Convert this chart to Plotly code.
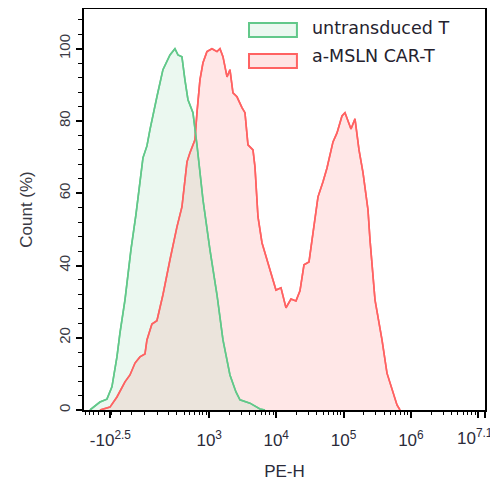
import numpy as np
import plotly.graph_objects as go

# ---- data (PE-H values, Count %) ----
untrans_x = [-688, -617, -477, -364, -296, -237, -205, -156, -104, -64, -33, -10, 20, 43,
             98, 150, 219, 275, 313, 368, 414, 465, 560, 648, 803, 1027, 1311, 1613,
             2052, 2522, 2893, 4075, 5740, 6809]
untrans_y = [0, 0.6, 2.2, 3.0, 6.4, 14.7, 21.3, 30.5, 44.3, 54.0, 62.9, 69.8, 73.1, 77.6,
             86.7, 94.2, 98.3, 100, 98.3, 97.8, 91.4, 85.9, 82.3, 73.4, 58.2, 44.3, 31.9, 19.4,
             9.7, 5.0, 2.8, 1.9, 0.3, 0]

car_x = [-477, -322, -237, -156, -112, -71, -33, 5, 20, 58, 98, 150, 219, 300, 368, 448,
         501, 602, 648, 721, 803, 924, 1101, 1311, 1454, 1613, 1854, 2052, 2275, 2610,
         3098, 3434, 3806, 4517, 4836, 5359, 6145, 7291, 8653, 9920, 11770, 13966, 16573,
         19657, 22539, 25850, 30668, 35167, 41723, 49511, 56760, 69674, 79893, 94776,
         105017, 128920, 147840, 169510, 194370, 230560, 246950, 292930, 372130, 441320,
         523710, 621500, 688710]
car_y = [0, 0.8, 3.6, 7.8, 9.7, 13.0, 14.7, 15.5, 19.4, 23.8, 24.7, 31.9, 41.6, 50.7, 56.2, 68.7,
         71.2, 74.8, 82.3, 91.4, 96.1, 99.2, 100, 99.2, 100, 97.8, 92.2, 94.2, 87.8, 86.7,
         83.7, 82.3, 73.4, 72.0, 67.3, 53.5, 46.3, 41.6, 36.8, 33.2, 33.8, 28.3, 30.7,
         30.2, 33.0, 40.2, 41.0, 49.0, 59.0, 63.2, 67.0, 74.2, 76.7, 81.4,
         82.3, 77.8, 80.6, 72.0, 65.7, 55.4, 47.1, 30.5, 19.4, 10.2,
         5.5, 1.4, 0]

series_names = ["untransduced T", "a-MSLN CAR-T"]
major_tick_vals = [-10 ** 2.5, 1e3, 1e4, 1e5, 1e6]
major_tick_text = ["-10<sup>2.5</sup>", "10<sup>3</sup>", "10<sup>4</sup>", "10<sup>5</sup>", "10<sup>6</sup>"]
max_label = "10<sup>7.1</sup>"
x_min, x_max = -850, 10 ** 7.1
y_ticks = [0, 20, 40, 60, 80, 100]

# ---- biexponential-like display transform (arcsinh) ----
C = 220.0
def T(v):
    return np.arcsinh(np.asarray(v, dtype=float) / C) / np.log(10)

minor_vals = [0]
for n in range(2, 7):
    for k in range(1, 10):
        minor_vals.append(k * 10 ** n)
for k in range(1, 9):
    minor_vals.append(-k * 100)
minor_vals = [v for v in minor_vals if x_min < v <= x_max]

GREEN = "rgb(98,200,138)"
RED = "rgb(255,98,98)"
GREEN_FILL = "rgba(137,214,167,0.17)"
RED_FILL = "rgba(255,120,120,0.18)"

fig = go.Figure()
fig.add_trace(go.Scatter(x=T(car_x), y=car_y, mode="lines", fill="tozeroy",
                         fillcolor=RED_FILL, line=dict(color=RED, width=1.6),
                         name=series_names[1], showlegend=False, hoverinfo="skip"))
fig.add_trace(go.Scatter(x=T(untrans_x), y=untrans_y, mode="lines", fill="tozeroy",
                         fillcolor=GREEN_FILL, line=dict(color=GREEN, width=1.6),
                         name=series_names[0], showlegend=False, hoverinfo="skip"))
# lines on top of fills
fig.add_trace(go.Scatter(x=T(car_x), y=car_y, mode="lines",
                         line=dict(color=RED, width=1.6), showlegend=False))
fig.add_trace(go.Scatter(x=T(untrans_x), y=untrans_y, mode="lines",
                         line=dict(color=GREEN, width=1.6), showlegend=False))

AX_FONT = "Liberation Sans, Arial, sans-serif"
tick_font = dict(family=AX_FONT, size=17, color="#2b2b3a")

# the page body adds an 8px offset, so the figure is sized to fit inside the window
fig.update_layout(
    width=490, height=479,
    margin=dict(l=76, r=13, t=1, b=77, autoexpand=False),
    paper_bgcolor="white", plot_bgcolor="white",
    showlegend=False,
    xaxis=dict(
        range=[float(T(x_min)), float(T(x_max))],
        tickmode="array",
        tickvals=[float(t) for t in T(major_tick_vals)] + [float(T(1e7)), float(T(x_max))],
        ticktext=major_tick_text + ["", ""],
        ticks="outside", ticklen=6, tickwidth=2, tickcolor="black",
        ticklabelstandoff=8,
        minor=dict(tickmode="array", tickvals=[float(t) for t in T(minor_vals)],
                   ticks="outside", ticklen=3, tickwidth=1, tickcolor="black"),
        showline=True, linewidth=2, linecolor="black", mirror=True,
        showgrid=False, zeroline=False,
        tickfont=tick_font,
        title=dict(text="PE-H", font=dict(family=AX_FONT, size=17, color="#2b2b3a"), standoff=16),
    ),
    yaxis=dict(
        range=[0, 111],
        tickmode="array", tickvals=y_ticks,
        ticks="outside", ticklen=6, tickwidth=2, tickcolor="black",
        minor=dict(dtick=4, ticks="outside", ticklen=4, tickwidth=1, tickcolor="black"),
        tickangle=-90,
        showline=True, linewidth=2, linecolor="black", mirror=True,
        showgrid=False, zeroline=False,
        tickfont=dict(family=AX_FONT, size=15, color="#3a3a44"),
        title=dict(text="Count (%)", font=dict(family=AX_FONT, size=17, color="#3a3a44"), standoff=19),
    ),
)

# axis-max label
fig.add_annotation(x=float(T(x_max)), y=0, xref="x", yref="y", text=max_label,
                   showarrow=False, xanchor="right", yanchor="top", xshift=10, yshift=-14,
                   font=tick_font)

# legend drawn as swatches + text
leg_font = dict(family="DejaVu Sans, sans-serif", size=17.5, color="#25222e")
swatches = [(GREEN, GREEN_FILL, 0.930, 0.965, 0.9526), (RED, "rgba(255,120,120,0.2)", 0.853, 0.888, 0.8828)]
for name, (lc, fc, y0, y1, ty) in zip(series_names, swatches):
    fig.add_shape(type="rect", xref="paper", yref="paper", x0=0.4115, x1=0.531, y0=y0, y1=y1,
                  line=dict(color=lc, width=2), fillcolor=fc)
    fig.add_annotation(x=0.5636, y=ty, xref="paper", yref="paper", text=name, showarrow=False,
                       xanchor="left", yanchor="middle", font=leg_font)

fig.write_html("out.html")
